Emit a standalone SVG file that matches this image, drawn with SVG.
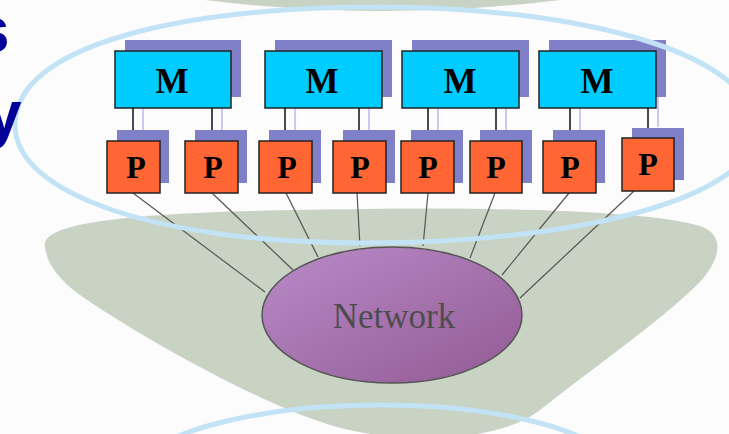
<svg xmlns="http://www.w3.org/2000/svg" width="729" height="434" viewBox="0 0 729 434">
<defs>
<linearGradient id="netGrad" x1="0" y1="0" x2="1" y2="1">
<stop offset="0" stop-color="#b98bc9"/>
<stop offset="1" stop-color="#925a93"/>
</linearGradient>
<style>
.shadow{fill:#8080c8}
.sline{stroke:#c8c8f0;stroke-width:2}
.mbox{fill:#00ccff;stroke:#222;stroke-width:1.5}
.pbox{fill:#ff6633;stroke:#222;stroke-width:1.5}
.lbl{font-family:"Liberation Serif","Times New Roman",serif;font-weight:bold;fill:#000;text-anchor:middle}
.link{stroke:#555;stroke-width:1.2;fill:none}
.bus{stroke:#111;stroke-width:1.5}
.blob{fill:#c9d3c3}
.ring{fill:none;stroke:#c2e2f5;stroke-width:5}
.title{font-family:"Liberation Sans",Arial,sans-serif;font-weight:bold;font-size:64px;fill:#000099}
</style>
</defs>
<rect width="729" height="434" fill="#fcfcfc"/>

<g id="backdrop">
<path class="blob" d="M 205,0 Q 383,22 560,0 Z"/>
<path class="blob" d="M 45,247 C 40,222 130,211 365,209 C 500,207 650,211 700,226 C 728,236 718,262 700,282 C 660,322 590,370 540,410 C 500,442 400,446 330,425 C 250,400 130,330 80,295 C 55,277 46,260 45,247 Z"/>
<path class="ring" d="M 381,405 C 250,405 180,434 170,440 M 381,405 C 500,405 570,430 585,440"/>
</g>

<g id="connectors">
<line class="link" x1="133" y1="193" x2="265" y2="292"/>
<line class="link" x1="212" y1="193" x2="293" y2="270"/>
<line class="link" x1="286" y1="193" x2="318" y2="257"/>
<line class="link" x1="357" y1="193" x2="360" y2="246"/>
<line class="link" x1="428" y1="193" x2="423" y2="246"/>
<line class="link" x1="495" y1="193" x2="470" y2="258"/>
<line class="link" x1="569" y1="193" x2="502" y2="275"/>
<line class="link" x1="634" y1="191" x2="520" y2="298"/>
<g id="shadow-lines">
<line class="sline" x1="143" y1="97" x2="143" y2="130"/>
<line class="sline" x1="222" y1="97" x2="222" y2="130"/>
<line class="sline" x1="295" y1="97" x2="295" y2="130"/>
<line class="sline" x1="369" y1="97" x2="369" y2="130"/>
<line class="sline" x1="438" y1="97" x2="438" y2="130"/>
<line class="sline" x1="506" y1="97" x2="506" y2="130"/>
<line class="sline" x1="580" y1="97" x2="580" y2="130"/>
<line class="sline" x1="658" y1="97" x2="658" y2="127"/>
</g>
<line class="bus" x1="133" y1="108" x2="133" y2="141"/>
<line class="bus" x1="212" y1="108" x2="212" y2="141"/>
<line class="bus" x1="285" y1="108" x2="285" y2="141"/>
<line class="bus" x1="359" y1="108" x2="359" y2="141"/>
<line class="bus" x1="428" y1="108" x2="428" y2="141"/>
<line class="bus" x1="496" y1="108" x2="496" y2="141"/>
<line class="bus" x1="570" y1="108" x2="570" y2="141"/>
<line class="bus" x1="648" y1="108" x2="648" y2="138"/>
</g>

<g id="network">
<ellipse cx="392" cy="315" rx="130" ry="68" fill="url(#netGrad)" stroke="#555" stroke-width="1.5"/>
<text x="394" y="328" font-family="'Liberation Serif','Times New Roman',serif" font-size="35" fill="#4d4d4d" text-anchor="middle">Network</text>
</g>

<g id="M1"><rect class="shadow" x="125" y="40" width="116" height="57"/><rect class="mbox" x="115" y="51" width="116" height="57"/><text class="lbl" x="172" y="93" font-size="35">M</text></g>
<g id="M2"><rect class="shadow" x="275" y="40" width="117" height="57"/><rect class="mbox" x="265" y="51" width="117" height="57"/><text class="lbl" x="322" y="93" font-size="35">M</text></g>
<g id="M3"><rect class="shadow" x="412" y="40" width="117" height="57"/><rect class="mbox" x="402" y="51" width="117" height="57"/><text class="lbl" x="460" y="93" font-size="35">M</text></g>
<g id="M4"><rect class="shadow" x="549" y="40" width="117" height="57"/><rect class="mbox" x="539" y="51" width="117" height="57"/><text class="lbl" x="597" y="93" font-size="35">M</text></g>

<g id="P1"><rect class="shadow" x="117" y="130" width="52" height="53"/><rect class="pbox" x="107" y="141" width="53" height="52"/><text class="lbl" x="136" y="178" font-size="32">P</text></g>
<g id="P2"><rect class="shadow" x="195" y="130" width="52" height="53"/><rect class="pbox" x="185" y="141" width="53" height="52"/><text class="lbl" x="213" y="178" font-size="32">P</text></g>
<g id="P3"><rect class="shadow" x="269" y="130" width="52" height="53"/><rect class="pbox" x="259" y="141" width="53" height="52"/><text class="lbl" x="287" y="178" font-size="32">P</text></g>
<g id="P4"><rect class="shadow" x="343" y="130" width="52" height="53"/><rect class="pbox" x="333" y="141" width="53" height="52"/><text class="lbl" x="360" y="178" font-size="32">P</text></g>
<g id="P5"><rect class="shadow" x="411" y="130" width="52" height="53"/><rect class="pbox" x="401" y="141" width="53" height="52"/><text class="lbl" x="428" y="178" font-size="32">P</text></g>
<g id="P6"><rect class="shadow" x="480" y="130" width="52" height="53"/><rect class="pbox" x="470" y="141" width="52" height="52"/><text class="lbl" x="496" y="178" font-size="32">P</text></g>
<g id="P7"><rect class="shadow" x="553" y="130" width="52" height="53"/><rect class="pbox" x="543" y="141" width="53" height="52"/><text class="lbl" x="570" y="178" font-size="32">P</text></g>
<g id="P8"><rect class="shadow" x="632" y="128" width="52" height="52"/><rect class="pbox" x="622" y="138" width="52" height="53"/><text class="lbl" x="648" y="175" font-size="32">P</text></g>

<g id="cluster-ring">
<path class="ring" d="M 381,7 C 570,7 755,50 755,130 C 755,200 570,243 365,243 C 160,243 15,195 15,125 C 15,45 180,7 381,7 Z"/>
</g>

<g id="title-fragments">
<text class="title" x="-26" y="52">s</text>
<text class="title" x="-14" y="136">y</text>
</g>
</svg>
